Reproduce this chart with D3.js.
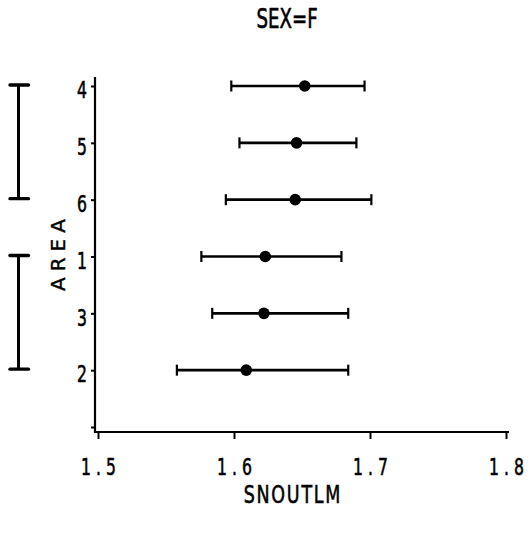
<!DOCTYPE html>
<html>
<head>
<meta charset="utf-8">
<script src="https://cdn.jsdelivr.net/npm/d3@7"></script>
<style>
  html, body { margin: 0; padding: 0; background: #fff; }
  svg { display: block; }
  text { font-family: "DejaVu Sans", sans-serif; fill: #000; stroke: #000; stroke-width: 0.6px; }
</style>
</head>
<body>
<svg id="chart" width="530" height="539"></svg>
<script>
// Areas in plotted order (top to bottom), with mean and interval ends of SNOUTLM
const areas = ["4", "5", "6", "1", "3", "2"];
const means = [1.652, 1.646, 1.645, 1.623, 1.622, 1.609];
const lower = [1.598, 1.604, 1.594, 1.576, 1.584, 1.558];
const upper = [1.696, 1.690, 1.701, 1.679, 1.684, 1.684];
const xTicks = [1.5, 1.6, 1.7, 1.8];
// Groups of areas that do not differ significantly (bracketed on the left)
const groups = [["4", "6"], ["1", "2"]];

const svg = d3.select("#chart");
// horizontal squeeze giving the tall, narrow lettering
const SX = 0.68;

const x = d3.scaleLinear().domain([1.5, 1.8]).range([98, 506]);
// one extra empty slot below the last area
const y = d3.scalePoint().domain([...areas, ""]).range([86, 427]);

const axisX = 95, axisY = 432;

// x axis
const gx = svg.append("g").attr("transform", `translate(0,${axisY})`);
gx.call(d3.axisBottom(x).tickValues(xTicks).tickSize(7).tickSizeOuter(0).tickFormat(d3.format(".1f")));
gx.select(".domain").remove();
gx.append("line").attr("x1", axisX).attr("x2", 509).attr("stroke", "#000").attr("stroke-width", 2.2);
gx.selectAll(".tick line").attr("stroke", "#000").attr("stroke-width", 2);
const xls = 7.5;
gx.selectAll(".tick text")
  .attr("y", 0).attr("dy", 43)
  .attr("x", xls / 2)
  .attr("transform", `scale(${SX},1)`)
  .style("font-size", "23px")
  .style("letter-spacing", `${xls}px`);

// y axis
const gy = svg.append("g").attr("transform", `translate(${axisX},0)`);
gy.call(d3.axisLeft(y).tickSize(4).tickSizeOuter(0));
gy.select(".domain").remove();
gy.append("line").attr("y1", 77).attr("y2", axisY + 1).attr("stroke", "#000").attr("stroke-width", 2.2);
gy.selectAll(".tick line").attr("stroke", "#000").attr("stroke-width", 2);
gy.selectAll(".tick text")
  .attr("x", -8 / SX)
  .attr("dy", "0.38em")
  .attr("y", 3)
  .attr("transform", `scale(${SX},1)`)
  .style("font-size", "23px");

// error bars
const rows = areas.map((a, i) => ({ area: a, mean: means[i], lo: lower[i], hi: upper[i] }));
const bars = svg.append("g").selectAll("g").data(rows).join("g");
bars.append("line")
  .attr("x1", d => x(d.lo)).attr("x2", d => x(d.hi))
  .attr("y1", d => y(d.area)).attr("y2", d => y(d.area))
  .attr("stroke", "#000").attr("stroke-width", 2.6);
bars.append("line")
  .attr("x1", d => x(d.lo)).attr("x2", d => x(d.lo))
  .attr("y1", d => y(d.area) - 5.5).attr("y2", d => y(d.area) + 5.5)
  .attr("stroke", "#000").attr("stroke-width", 2.2);
bars.append("line")
  .attr("x1", d => x(d.hi)).attr("x2", d => x(d.hi))
  .attr("y1", d => y(d.area) - 5.5).attr("y2", d => y(d.area) + 5.5)
  .attr("stroke", "#000").attr("stroke-width", 2.2);
bars.append("circle")
  .attr("cx", d => x(d.mean)).attr("cy", d => y(d.area))
  .attr("r", 5.8).attr("fill", "#000");

// grouping brackets
const bx = 18.5;
const br = svg.append("g").selectAll("g").data(groups).join("g");
br.append("line")
  .attr("x1", bx).attr("x2", bx)
  .attr("y1", d => y(d[0]) - 1).attr("y2", d => y(d[1]) - 1)
  .attr("stroke", "#000").attr("stroke-width", 3);
br.selectAll("line.cap").data(d => d).join("line").attr("class", "cap")
  .attr("x1", bx - 8.5).attr("x2", bx + 10)
  .attr("y1", d => y(d) - 1).attr("y2", d => y(d) - 1)
  .attr("stroke", "#000").attr("stroke-width", 3.4).attr("stroke-linecap", "round");

// titles, squeezed horizontally around their centre
function label(cx, cy, text, size, spacing, sx) {
  svg.append("text")
    .attr("transform", `translate(${cx},${cy}) scale(${sx},1)`)
    .attr("x", spacing / 2)
    .attr("text-anchor", "middle")
    .style("font-size", size + "px")
    .style("letter-spacing", spacing + "px")
    .text(text);
}
label(287, 28, "SEX=F", 26, 0, 0.7);
label(292, 503, "SNOUTLM", 25, 2.5, 0.7);

svg.append("text").attr("transform", "translate(65,255) rotate(-90)").attr("text-anchor", "middle")
  .attr("x", 3)
  .style("font-size", "20px").style("stroke-width", "0.4px").style("letter-spacing", "6px").text("AREA");
</script>
</body>
</html>
